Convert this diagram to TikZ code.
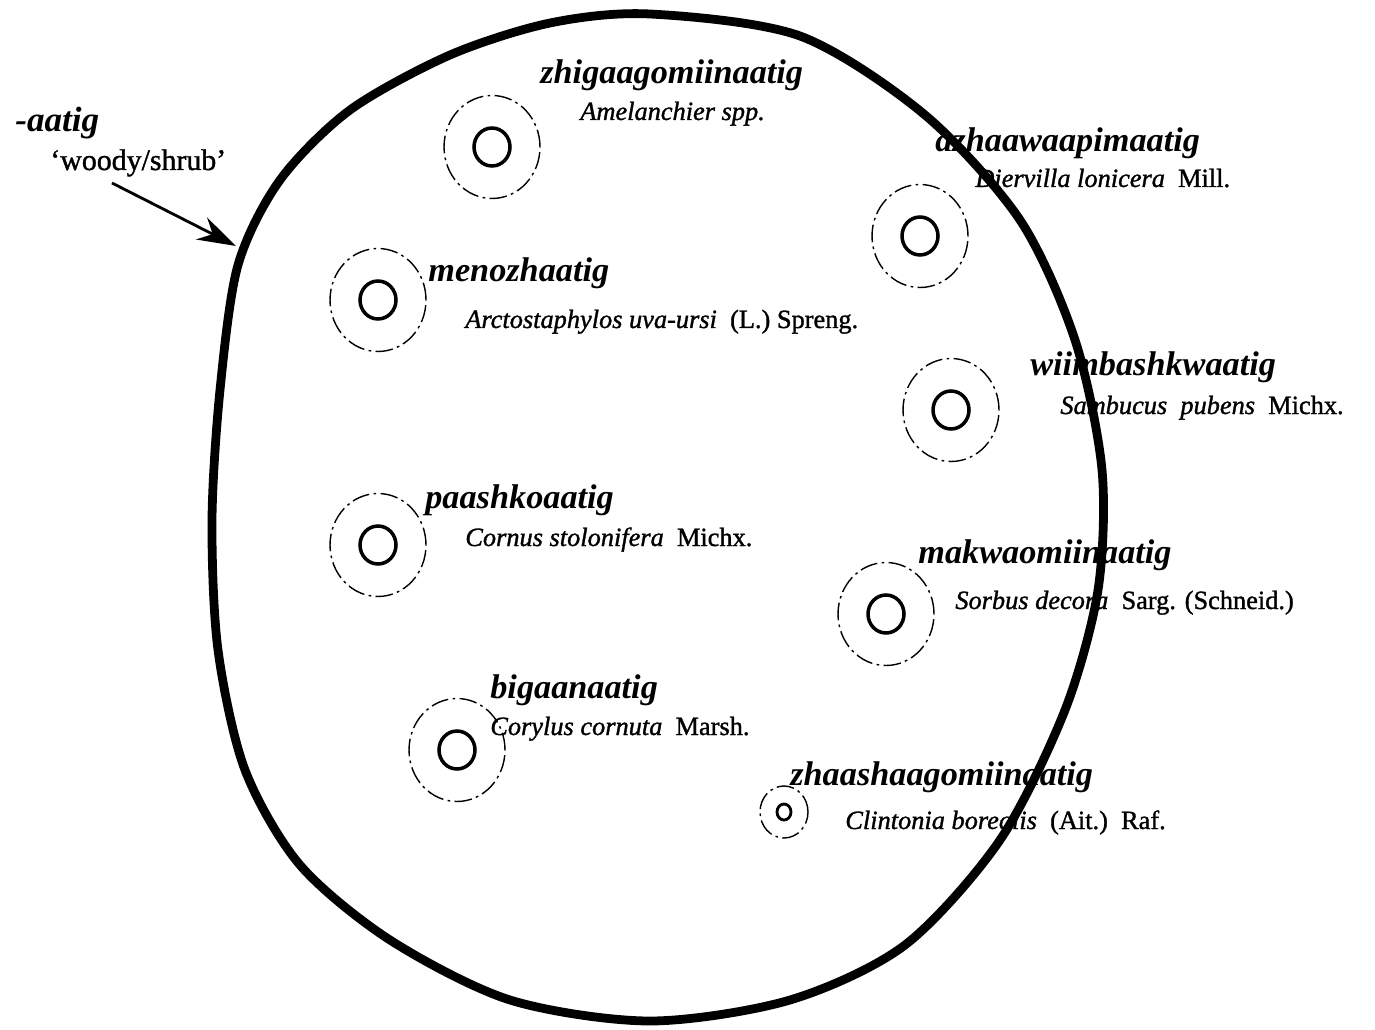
\documentclass[tikz,border=0pt]{standalone}
\usepackage{fontspec}
\setmainfont{Liberation Serif}
\newfontfamily\especiefont{Liberation Serif}[Ligatures=TeX, FakeBold=1.2]
\usetikzlibrary{arrows.meta,shapes.geometric}

\tikzset{
  nombre/.style={font=\fontsize{19.5}{21}\selectfont\bfseries\itshape, anchor=base west, inner sep=0pt},
  especie/.style={font=\especiefont\fontsize{15}{17}\selectfont, anchor=base west, inner sep=0pt},
  halo/.style={ellipse, draw, line width=0.8pt, dash pattern=on 10pt off 2.5pt on 1.5pt off 2.5pt,
    minimum width=1.92cm, minimum height=2.06cm, inner sep=0pt},
  nucleo/.style={ellipse, draw, line width=2pt, minimum width=0.72cm, minimum height=0.76cm, inner sep=0pt},
}

\begin{document}
\begin{tikzpicture}[x=0.02cm, y=-0.02cm]
\useasboundingbox (0,0) rectangle (1375,1030);

% Contorno -aatig
\draw [line width=5pt, line join=round] plot [smooth cycle] coordinates {
  (650,14) (800,36) (925,115) (1020,220) (1075,340) (1102,470) (1098,590)
  (1065,710) (1000,840) (905,945) (790,1000) (650,1021) (510,1000) (390,940)
  (300,865) (245,770) (218,650) (212,520) (220,390) (238,265) (280,180)
  (350,110) (450,55) (550,23)};

% Etiqueta -aatig
\node [nombre, font=\fontsize{20}{22}\selectfont\bfseries\itshape] (aatig) at (15,132) {-aatig};
\node [especie, font=\especiefont\fontsize{17}{19}\selectfont] (woody) at (50,170) {`woody/shrub'};
\coordinate (cola) at (112,183);
\coordinate (punta) at (236,246);
\draw [-{Stealth[length=22pt,width=14pt]}, line width=1.6pt] (cola) -- (punta);

% zhigaagomiinaatig
\node [halo] (h1) at (492,147) {};
\node [nucleo] (n1) at (h1) {};
\node [nombre] (zhig) at (540,84) {zhigaagomiinaatig};
\node [especie] (amel) at (580,120) {\itshape Amelanchier spp.};

% azhaawaapimaatig
\node [halo] (h2) at (920,236) {};
\node [nucleo] (n2) at (h2) {};
\node [nombre] (azha) at (935,152) {azhaawaapimaatig};
\node [especie] (dier) at (975,187) {\textit{Diervilla lonicera}~~Mill.};

% menozhaatig
\node [halo] (h3) at (378,300) {};
\node [nucleo] (n3) at (h3) {};
\node [nombre] (meno) at (428,282) {menozhaatig};
\node [especie] (arct) at (465,328) {\textit{Arctostaphylos uva-ursi}~~(L.)~Spreng.};

% wiimbashkwaatig
\node [halo] (h4) at (951,410) {};
\node [nucleo] (n4) at (h4) {};
\node [nombre] (wiim) at (1030,376) {wiimbashkwaatig};
\node [especie] (samb) at (1060,414) {\textit{Sambucus~~pubens}~~Michx.};

% paashkoaatig
\node [halo] (h5) at (378,545) {};
\node [nucleo] (n5) at (h5) {};
\node [nombre] (paas) at (425,508) {paashkoaatig};
\node [especie] (corn) at (465,546) {\textit{Cornus stolonifera}~~Michx.};

% makwaomiinaatig
\node [halo] (h6) at (886,614) {};
\node [nucleo] (n6) at (h6) {};
\node [nombre] (makw) at (918,563) {makwaomiinaatig};
\node [especie] (sorb) at (955,609) {\textit{Sorbus decora}~~Sarg. (Schneid.)};

% bigaanaatig
\node [halo] (h7) at (457,750) {};
\node [nucleo] (n7) at (h7) {};
\node [nombre] (biga) at (490,698) {bigaanaatig};
\node [especie] (cory) at (490,735) {\textit{Corylus cornuta}~~Marsh.};

% zhaashaagomiinaatig (pequeño)
\node [halo, minimum width=0.96cm, minimum height=1.04cm] (h8) at (784,812) {};
\node [nucleo, line width=1.6pt, minimum width=0.28cm, minimum height=0.32cm] (n8) at (h8) {};
\node [nombre] (zhaa) at (790,785) {zhaashaagomiinaatig};
\node [especie] (clin) at (845,829) {\textit{Clintonia borealis}~~(Ait.)~~Raf.};
\end{tikzpicture}
\end{document}
